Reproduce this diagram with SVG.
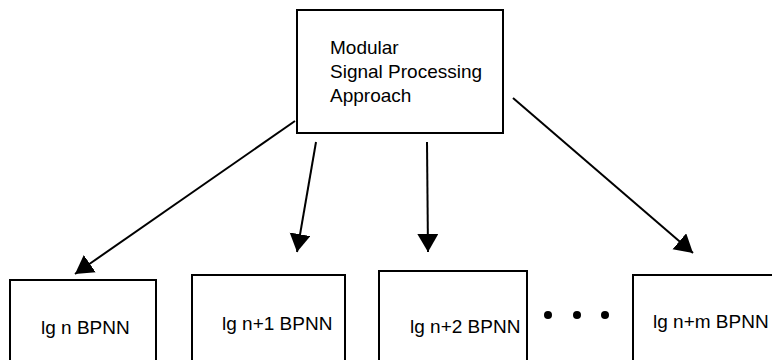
<svg xmlns="http://www.w3.org/2000/svg" width="772" height="360" viewBox="0 0 772 360">
  <style>
    .box { fill: #ffffff; stroke: #000000; stroke-width: 2; }
    .lbl { font-family: "Liberation Sans", Arial, sans-serif; font-size: 19px; fill: #000000; }
    .conn { stroke: #000000; stroke-width: 2; fill: none; marker-end: url(#head); }
    .dot { fill: #000000; }
  </style>
  <defs>
    <marker id="head" markerUnits="userSpaceOnUse" markerWidth="20" markerHeight="22" refX="18" refY="10.5" orient="auto">
      <path d="M0,0 L18,10.5 L0,21 Z" fill="#000000"/>
    </marker>
  </defs>
  <rect width="772" height="360" fill="#ffffff"/>

  <g id="approach">
    <rect class="box" x="297" y="10" width="206" height="123"/>
    <text class="lbl" x="330" y="54">Modular</text>
    <text class="lbl" x="330" y="78">Signal Processing</text>
    <text class="lbl" x="330" y="102">Approach</text>
  </g>

  <g id="bpnn-n">
    <rect class="box" x="10" y="280" width="146" height="100"/>
    <text class="lbl" x="41" y="334">lg n BPNN</text>
  </g>

  <g id="bpnn-n1">
    <rect class="box" x="192" y="275" width="153" height="100"/>
    <text class="lbl" x="222" y="330">lg n+1 BPNN</text>
  </g>

  <g id="bpnn-n2">
    <rect class="box" x="379" y="271" width="148" height="100"/>
    <text class="lbl" x="410" y="333">lg n+2 BPNN</text>
  </g>

  <g id="ellipsis">
    <circle class="dot" cx="548" cy="315" r="4"/>
    <circle class="dot" cx="577" cy="315" r="4"/>
    <circle class="dot" cx="605" cy="315" r="4"/>
  </g>

  <g id="bpnn-nm">
    <rect class="box" x="633" y="275" width="160" height="100"/>
    <text class="lbl" x="653" y="328">lg n+m BPNN</text>
  </g>

  <g id="connectors">
    <line class="conn" x1="295" y1="121" x2="75" y2="274"/>
    <line class="conn" x1="316" y1="142" x2="297" y2="252"/>
    <line class="conn" x1="427" y1="142" x2="428" y2="252"/>
    <line class="conn" x1="513" y1="98" x2="693" y2="253"/>
  </g>
</svg>
